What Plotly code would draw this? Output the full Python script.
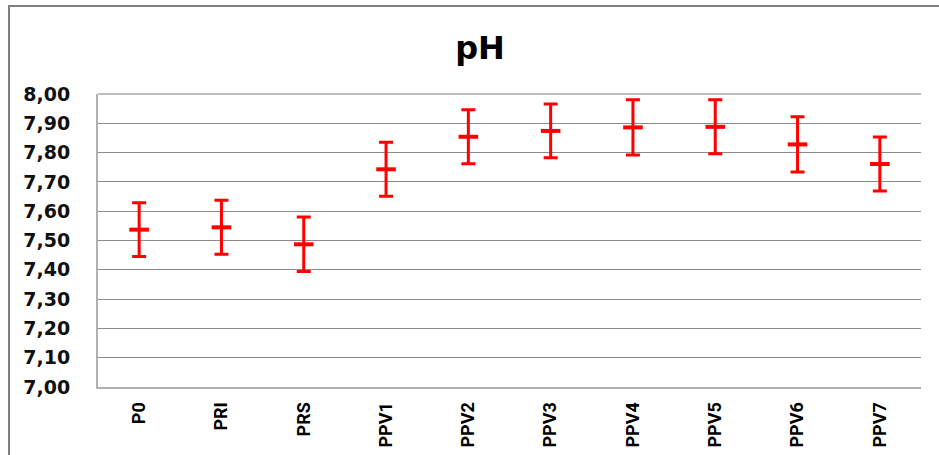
import plotly.graph_objects as go

categories = ["P0", "PRI", "PRS", "PPV1", "PPV2", "PPV3", "PPV4", "PPV5", "PPV6", "PPV7"]
ph_mean = [7.537, 7.545, 7.487, 7.743, 7.854, 7.874, 7.886, 7.888, 7.828, 7.761]
ph_err = [0.092, 0.092, 0.093, 0.092, 0.092, 0.092, 0.094, 0.092, 0.094, 0.092]
y_ticks = [7.0, 7.1, 7.2, 7.3, 7.4, 7.5, 7.6, 7.7, 7.8, 7.9, 8.0]
y_labels = ["7,00", "7,10", "7,20", "7,30", "7,40", "7,50", "7,60", "7,70", "7,80", "7,90", "8,00"]

W, H = 939, 455
L, R, T, B = 98, 18, 94, 68
pw, ph = W - L - R, H - T - B

fig = go.Figure()
fig.add_trace(go.Scatter(
    x=categories, y=ph_mean, mode="markers",
    marker=dict(symbol="line-ew", size=14, line=dict(color="#ff0000", width=4), color="#ff0000"),
    error_y=dict(type="data", array=ph_err, visible=True, color="#ff0000", thickness=3, width=7),
    showlegend=False, hoverinfo="skip",
))

def px_x(p):
    return (p - L) / pw

def px_y(p):
    return (H - B - p) / ph

fig.update_layout(
    width=W, height=H, autosize=False,
    margin=dict(l=L, r=R, t=T, b=B, pad=0),
    paper_bgcolor="white", plot_bgcolor="white",
    title=dict(text="<b>pH</b>", x=480 / W, xref="container", xanchor="center",
               y=1 - 48 / H, yref="container", yanchor="middle",
               font=dict(family="DejaVu Sans", size=32, color="#000")),
    xaxis=dict(type="category", categoryorder="array", categoryarray=categories,
               range=[-0.5, len(categories) - 0.5], automargin=False,
               showgrid=False, showline=True, linecolor="#b0b0b0", linewidth=2,
               tickangle=-90, ticks="", ticklabelstandoff=6,
               tickfont=dict(family="Liberation Sans Narrow, Roboto, sans-serif", size=18, color="#000"),
               tickprefix="<b>", ticksuffix="</b>", zeroline=False),
    yaxis=dict(range=[7.0, 8.0], tickvals=y_ticks, ticktext=[f"<b>{t}</b>" for t in y_labels],
               automargin=False,
               showgrid=True, gridcolor="#8c8c8c", gridwidth=1,
               showline=True, linecolor="#b0b0b0", linewidth=2, ticks="",
               ticklabelstandoff=22, zeroline=False,
               tickfont=dict(family="DejaVu Sans", size=19, color="#111")),
    shapes=[
        dict(type="line", xref="paper", yref="paper", x0=0, x1=1, y0=1, y1=1,
             line=dict(color="#bdbdbd", width=2)),
        dict(type="rect", xref="paper", yref="paper",
             x0=px_x(9), x1=px_x(W + 10), y0=px_y(H + 10), y1=px_y(6),
             line=dict(color="#808080", width=2), fillcolor="rgba(0,0,0,0)", layer="above"),
    ],
)

fig.write_html("out.html", config={"displayModeBar": False},
               post_script="document.body.style.margin='0';document.body.style.overflow='hidden';")
